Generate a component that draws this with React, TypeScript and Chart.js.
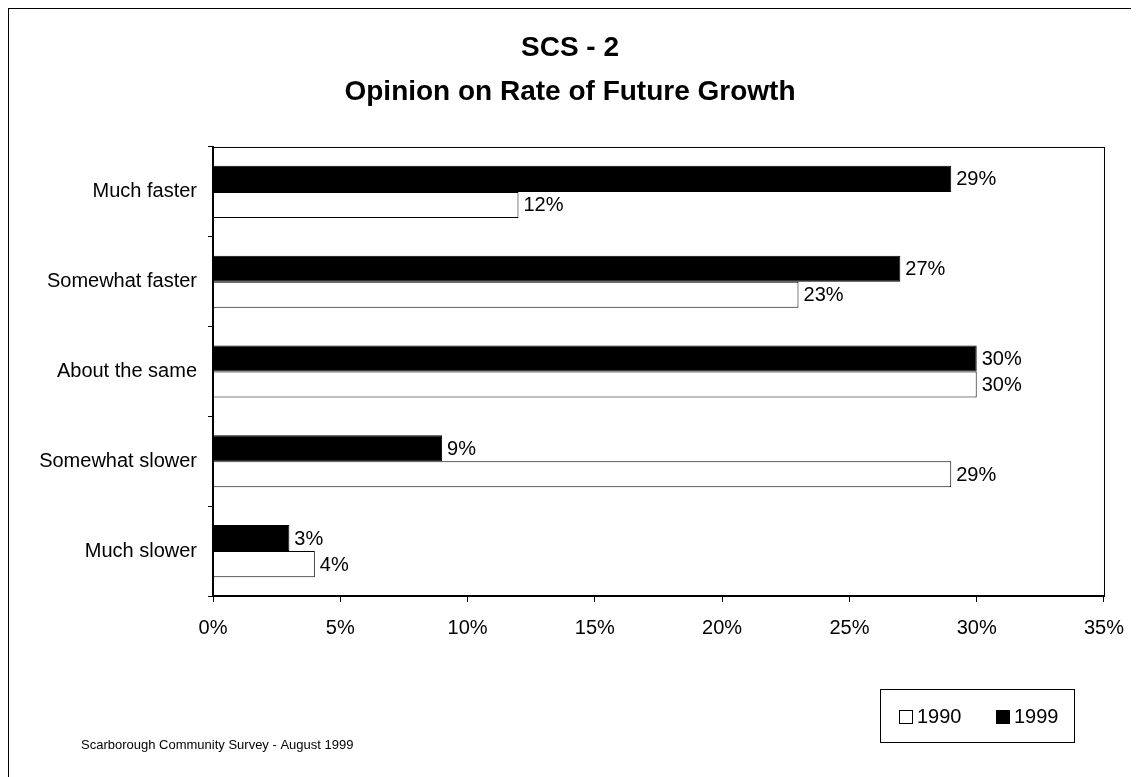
import React, { useEffect, useRef } from "react";
import { Chart, registerables } from "chart.js";

Chart.register(...registerables);

const categories = ["Much faster", "Somewhat faster", "About the same", "Somewhat slower", "Much slower"];
const values1999 = [29, 27, 30, 9, 3];
const values1990 = [12, 23, 30, 29, 4];
const xTicks = [0, 5, 10, 15, 20, 25, 30, 35];
const titleLines = ["SCS - 2", "Opinion on Rate of Future Growth"];
const footerText = "Scarborough Community Survey - August 1999";
const FONT = "'Liberation Sans', Arial, Helvetica, sans-serif";

const extrasPlugin = {
  id: "extras",
  afterDatasetsDraw(chart: any) {
    const { ctx, chartArea } = chart;
    ctx.save();
    // plot box
    ctx.strokeStyle = "#000";
    ctx.lineWidth = 1;
    ctx.strokeRect(chartArea.left + 0.5, chartArea.top + 0.5, chartArea.right - chartArea.left, chartArea.bottom - chartArea.top);
    // value labels
    ctx.font = `20px ${FONT}`;
    ctx.fillStyle = "#000";
    ctx.textBaseline = "middle";
    ctx.textAlign = "left";
    chart.data.datasets.forEach((ds: any, di: number) => {
      const meta = chart.getDatasetMeta(di);
      meta.data.forEach((bar: any, i: number) => {
        ctx.fillText(`${ds.data[i]}%`, bar.x + 5, bar.y + 1);
      });
    });
    // legend box
    const lx = 871, ly = 680, lw = 194, lh = 53;
    ctx.lineWidth = 1;
    ctx.strokeRect(lx + 0.5, ly + 0.5, lw, lh);
    const items = [
      { label: "1990", fill: "#fff", x: 890 },
      { label: "1999", fill: "#000", x: 987 },
    ];
    items.forEach((it) => {
      ctx.fillStyle = it.fill;
      ctx.fillRect(it.x + 0.5, ly + 21.5, 13, 13);
      ctx.strokeStyle = "#000";
      ctx.strokeRect(it.x + 0.5, ly + 21.5, 13, 13);
      ctx.fillStyle = "#000";
      ctx.font = `20px ${FONT}`;
      ctx.textBaseline = "middle";
      ctx.fillText(it.label, it.x + 18, ly + 28);
    });
    // footer
    ctx.font = `13px ${FONT}`;
    ctx.fillStyle = "#000";
    ctx.textBaseline = "middle";
    ctx.fillText(footerText, 72, 736);
    ctx.restore();
  },
};

export default function App() {
  const ref = useRef<HTMLCanvasElement | null>(null);
  useEffect(() => {
    if (!ref.current) return;
    const chart = new Chart(ref.current, {
      type: "bar",
      data: {
        labels: categories,
        datasets: [
          {
            label: "1999",
            data: values1999,
            backgroundColor: "#000",
            borderColor: "#000",
            borderWidth: 1,
            categoryPercentage: 0.58,
            barPercentage: 1,
          },
          {
            label: "1990",
            data: values1990,
            backgroundColor: "#fff",
            borderColor: "#000",
            borderWidth: 1,
            categoryPercentage: 0.58,
            barPercentage: 1,
          },
        ],
      },
      options: {
        indexAxis: "y",
        animation: false,
        responsive: false,
        maintainAspectRatio: false,
        layout: { padding: { left: 27, right: 34, top: 0, bottom: 120 } },
        plugins: {
          legend: { display: false },
          tooltip: { enabled: false },
          title: {
            display: true,
            text: titleLines,
            color: "#000",
            font: { family: FONT, size: 28, weight: "bold", lineHeight: 1.571 },
            padding: { top: 17, bottom: 33 },
          },
        },
        scales: {
          x: {
            min: 0,
            max: 35,
            afterBuildTicks: (axis: any) => {
              axis.ticks = xTicks.map((v) => ({ value: v }));
            },
            afterFit: (axis: any) => {
              axis.height = 60;
            },
            ticks: {
              color: "#000",
              font: { family: FONT, size: 20 },
              padding: 14,
              callback: (v: any) => `${v}%`,
              maxRotation: 0,
            },
            grid: { display: true, drawOnChartArea: false, drawTicks: true, tickLength: 6, color: "#000" },
            border: { color: "#000", width: 2 },
          },
          y: {
            afterFit: (axis: any) => {
              axis.width = 177;
            },
            ticks: { color: "#000", font: { family: FONT, size: 20 }, padding: 11 },
            grid: { display: true, offset: true, drawOnChartArea: false, drawTicks: true, tickLength: 5, color: "#000" },
            border: { color: "#000", width: 2 },
          },
        },
      },
      plugins: [extrasPlugin],
    });
    return () => chart.destroy();
  }, []);
  return (
    <div
      style={{
        position: "relative",
        width: 1131,
        height: 769,
        borderTop: "1px solid #000",
        borderLeft: "1px solid #000",
        boxSizing: "border-box",
        background: "#fff",
        overflow: "hidden",
      }}
    >
      <canvas ref={ref} width={1129} height={767} style={{ display: "block" }} />
    </div>
  );
}
